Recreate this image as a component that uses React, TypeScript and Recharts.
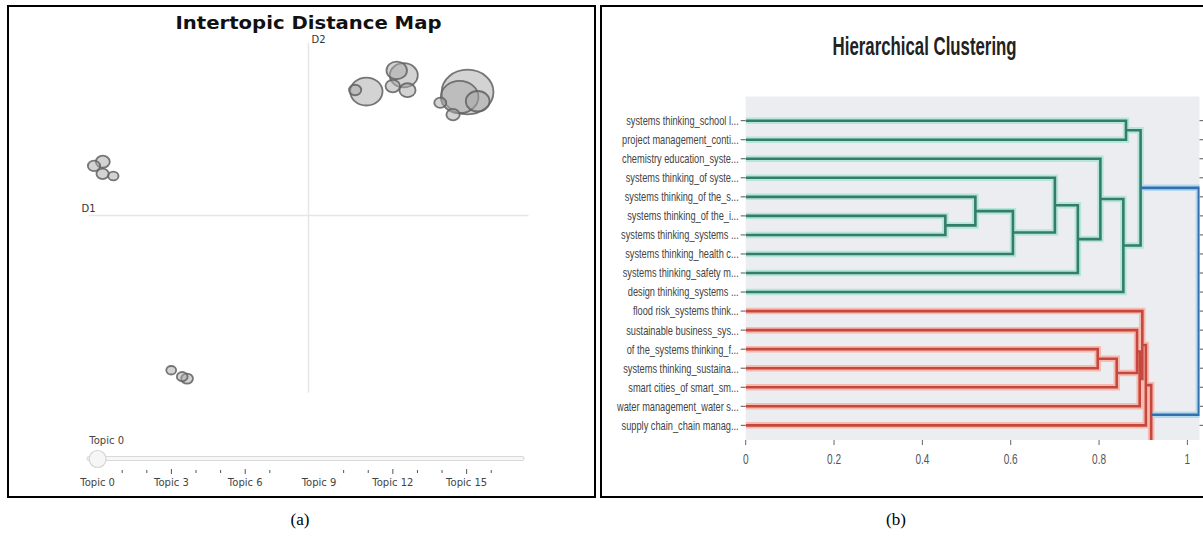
import React from 'react';
import {
  ScatterChart,
  Scatter,
  XAxis,
  YAxis,
  ZAxis,
  ReferenceLine,
  CartesianGrid,
} from 'recharts';

// (a) Intertopic distance map: one bubble per topic
const topicIds = [0, 1, 2, 3, 4, 5, 6, 7, 8, 9, 10, 11, 12, 13, 14, 15, 16, 17];
const topicD1 = [0.723, 0.687, 0.263, 0.433, 0.769, 0.401, 0.45, 0.383, -0.935, 0.657, 0.212, -0.975, -0.936, 0.599, -0.552, -0.574, -0.887, -0.624];
const topicD2 = [0.562, 0.539, 0.564, 0.638, 0.52, 0.66, 0.57, 0.589, 0.245, 0.459, 0.571, 0.226, 0.19, 0.513, -0.741, -0.732, 0.18, -0.703];
const topicSize = [576, 303, 225, 169, 121, 90, 56, 45, 42, 38, 32, 32, 32, 31, 30, 25, 23, 21];

// topic slider under the map
const sliderTicks = [0, 1, 2, 3, 4, 5, 6, 7, 8, 9, 10, 11, 12, 13, 14, 15, 16];
const sliderLabelTicks = [0, 3, 6, 9, 12, 15];
const sliderNoMark = [0, 8, 9];
const selectedTopic = 0;

// (b) Hierarchical clustering: leaves top to bottom, then merges
const leafLabels = [
  'systems thinking_school l...',
  'project management_conti...',
  'chemistry education_syste...',
  'systems thinking_of syste...',
  'systems thinking_of the_s...',
  'systems thinking_of the_i...',
  'systems thinking_systems ...',
  'systems thinking_health c...',
  'systems thinking_safety m...',
  'design thinking_systems ...',
  'flood risk_systems think...',
  'sustainable business_sys...',
  'of the_systems thinking_f...',
  'systems thinking_sustaina...',
  'smart cities_of smart_sm...',
  'water management_water s...',
  'supply chain_chain manag...',
];
const mergeLeft = ['L5', 'L4', 'm1', 'L3', 'm3', 'L2', 'm5', 'L0', 'm7', 'L12', 'm9', 'L11', 'm11', 'L10', 'm13', 'm14', 'm8'];
const mergeRight = ['L6', 'm0', 'L7', 'm2', 'L8', 'm4', 'L9', 'L1', 'm6', 'L13', 'L14', 'm10', 'L15', 'm12', 'L16', 'L17', 'm15'];
const mergeHeight = [0.452, 0.52, 0.605, 0.7, 0.752, 0.803, 0.855, 0.861, 0.894, 0.797, 0.84, 0.886, 0.892, 0.898, 0.906, 0.918, 1.026];
const mergeCluster = ['g', 'g', 'g', 'g', 'g', 'g', 'g', 'g', 'g', 'r', 'r', 'r', 'r', 'r', 'r', 'r', 'root'];
const distanceTicks = [0, 0.2, 0.4, 0.6, 0.8, 1];

const FONT_A = "'DejaVu Sans', Verdana, sans-serif";
const FONT_B = "'Liberation Sans', Arial, sans-serif";

const CORE: Record<string, string> = { g: '#347d6a', r: '#c4483d', root: '#3371ae' };
const HALO: Record<string, string> = { g: '#b6e6d7', r: '#f6bab1', root: '#b3d8f0' };

const topicData = topicIds.map((id, i) => ({
  topic: id,
  d1: topicD1[i],
  d2: topicD2[i],
  size: topicSize[i],
}));

const leafTicks = leafLabels.map((_, i) => 5 + 10 * i);

function nodePos(id: string): { x: number; y: number } {
  if (id[0] === 'L') return { x: 0, y: 5 + 10 * Number(id.slice(1)) };
  const k = Number(id.slice(1));
  const a = nodePos(mergeLeft[k]);
  const b = nodePos(mergeRight[k]);
  return { x: mergeHeight[k], y: (a.y + b.y) / 2 };
}

const links = mergeHeight.map((h, k) => {
  const a = nodePos(mergeLeft[k]);
  const b = nodePos(mergeRight[k]);
  return {
    cluster: mergeCluster[k],
    points: [
      { x: a.x, y: a.y },
      { x: h, y: a.y },
      { x: h, y: b.y },
      { x: b.x, y: b.y },
    ],
  };
});

const TopicBubble = (p: any) => {
  const r = p.width ? p.width / 2 : Math.sqrt((p.size ?? 64) / Math.PI);
  return (
    <ellipse
      cx={p.cx}
      cy={p.cy}
      rx={r * 1.08}
      ry={r * 0.93}
      fill="#a8a8a8"
      fillOpacity={0.5}
      stroke="#606060"
      strokeOpacity={0.85}
      strokeWidth={1.8}
    />
  );
};

const SliderTick = ({ x, y, payload }: any) => {
  const v = payload.value;
  const major = sliderLabelTicks.includes(v);
  return (
    <g>
      {!sliderNoMark.includes(v) && (
        <line x1={x} x2={x} y1={y + (major ? 0 : 1)} y2={y + (major ? 5 : 4)} stroke="#555" />
      )}
      {major && (
        <text x={x} y={y + 17} textAnchor="middle" fontSize={10} fill="#444" fontFamily={FONT_A}>
          {`Topic ${v}`}
        </text>
      )}
    </g>
  );
};

const SliderHandle = ({ cx, cy, payload }: any) => (
  <g>
    <circle cx={cx} cy={cy + 0.5} r={8.5} fill="#f6f6f6" stroke="#d4d4d4" strokeWidth={1.2} />
    <text x={cx - 8.3} y={cy - 14.5} fontSize={10} fill="#444" fontFamily={FONT_A}>
      {`Topic ${payload.topic}`}
    </text>
  </g>
);

const LeafTick = ({ x, y, payload }: any) => {
  const idx = leafTicks.indexOf(payload.value);
  return (
    <g transform={`translate(${x},${y})`}>
      <text transform="scale(0.74,1)" textAnchor="end" dy="0.35em" fontSize={12.5} fill="#444" fontFamily={FONT_B}>
        {leafLabels[idx]}
      </text>
    </g>
  );
};

const DistTick = ({ x, y, payload }: any) => (
  <g transform={`translate(${x},${y})`}>
    <text transform="scale(0.72,1)" textAnchor="middle" dy="0.71em" fontSize={14} fill="#555" fontFamily={FONT_B}>
      {payload.value}
    </text>
  </g>
);

const NoTick = () => <g />;
const NoShape = () => <g />;

export default function App() {
  return (
    <div
      style={{
        position: 'absolute',
        left: 0,
        top: 0,
        width: 1203,
        height: 537,
        overflow: 'hidden',
        background: '#fff',
      }}
    >
      {/* panel frames */}
      <div style={{ position: 'absolute', left: 7, top: 5, width: 589, height: 493, border: '2px solid #000', boxSizing: 'border-box' }} />
      <div style={{ position: 'absolute', left: 600, top: 5, width: 620, height: 493, border: '2px solid #000', boxSizing: 'border-box' }} />

      {/* (a) map */}
      <div style={{ position: 'absolute', left: 0, top: 0 }}>
        <ScatterChart width={540} height={400} margin={{ top: 42.7, right: 11.5, bottom: 7.3, left: 88.5 }}>
          <XAxis type="number" dataKey="d1" domain={[-1, 1]} hide />
          <YAxis type="number" dataKey="d2" domain={[-0.805, 0.786]} hide />
          <ZAxis type="number" dataKey="size" domain={[0, 600]} range={[0, 600 * Math.PI]} />
          <ReferenceLine
            x={0}
            stroke="#e6e6e6"
            strokeWidth={1.5}
            label={(p: any) => (
              <text x={p.viewBox.x + 3} y={p.viewBox.y} fontSize={10} fill="#333" fontFamily={FONT_A}>
                D2
              </text>
            )}
          />
          <ReferenceLine
            y={0}
            stroke="#e6e6e6"
            strokeWidth={1.5}
            label={(p: any) => (
              <text x={p.viewBox.x - 7} y={p.viewBox.y - 3.4} fontSize={10} fill="#333" fontFamily={FONT_A}>
                D1
              </text>
            )}
          />
          <Scatter data={topicData} shape={TopicBubble} isAnimationActive={false} />
        </ScatterChart>
      </div>

      {/* (a) topic slider */}
      <div style={{ position: 'absolute', left: 0, top: 420 }}>
        <ScatterChart width={540} height={75} margin={{ top: 28, right: 18, bottom: 0, left: 89 }}>
          <XAxis
            type="number"
            dataKey="topic"
            domain={[-0.35, 17.25]}
            ticks={sliderTicks}
            interval={0}
            axisLine={false}
            tickLine={false}
            tickSize={0}
            tickMargin={0}
            height={26}
            tick={SliderTick}
          />
          <YAxis type="number" dataKey="v" domain={[0, 1]} hide />
          <ReferenceLine y={0.5} stroke="#d9d9d9" strokeWidth={5} strokeLinecap="round" />
          <ReferenceLine y={0.5} stroke="#f7f7f7" strokeWidth={3} strokeLinecap="round" />
          <Scatter data={[{ topic: selectedTopic, v: 0.5 }]} shape={SliderHandle} isAnimationActive={false} />
        </ScatterChart>
      </div>

      {/* (b) dendrogram */}
      <div style={{ position: 'absolute', left: 600, top: 60 }}>
        <ScatterChart width={610} height={420} margin={{ top: 30.5, right: 0, bottom: 10, left: 0 }}>
          <CartesianGrid xAxisId="b" yAxisId="l" horizontal={false} vertical={false} fill="#ebedf0" />
          <XAxis
            xAxisId="b"
            type="number"
            dataKey="x"
            domain={[0, 1.0274]}
            allowDataOverflow
            ticks={distanceTicks}
            interval={0}
            axisLine={false}
            tickLine={{ stroke: '#666' }}
            tickSize={5}
            tickMargin={9}
            height={30}
            tick={DistTick}
          />
          <XAxis
            xAxisId="t"
            orientation="top"
            type="number"
            domain={[0, 1.0274]}
            allowDataOverflow
            ticks={distanceTicks}
            interval={0}
            axisLine={false}
            tickLine={{ stroke: '#666' }}
            tickSize={5}
            height={6}
            tick={NoTick}
          />
          <YAxis
            yAxisId="l"
            type="number"
            dataKey="y"
            domain={[-7.7, 172.7]}
            reversed
            allowDataOverflow
            ticks={leafTicks}
            interval={0}
            axisLine={false}
            tickLine={{ stroke: '#555' }}
            tickSize={5}
            tickMargin={2}
            width={145.7}
            tick={LeafTick}
          />
          <YAxis
            yAxisId="r"
            orientation="right"
            type="number"
            domain={[-7.7, 172.7]}
            reversed
            allowDataOverflow
            ticks={leafTicks}
            interval={0}
            axisLine={false}
            tickLine={{ stroke: '#555' }}
            tickSize={5}
            width={10.5}
            tick={NoTick}
          />
          {links.map((l, i) => (
            <Scatter
              key={`h${i}`}
              xAxisId="b"
              yAxisId="l"
              data={l.points}
              line={{ stroke: HALO[l.cluster], strokeWidth: 6.5 }}
              shape={NoShape}
              isAnimationActive={false}
            />
          ))}
          {links.map((l, i) => (
            <Scatter
              key={`c${i}`}
              xAxisId="b"
              yAxisId="l"
              data={l.points}
              line={{ stroke: CORE[l.cluster], strokeWidth: 2.6 }}
              shape={NoShape}
              isAnimationActive={false}
            />
          ))}
        </ScatterChart>
      </div>

      {/* titles and captions */}
      <svg width={1203} height={537} style={{ position: 'absolute', left: 0, top: 0, pointerEvents: 'none' }}>
        <text
          x={308.5}
          y={29.3}
          textAnchor="middle"
          fontFamily={FONT_A}
          fontWeight="bold"
          fontSize={18}
          textLength={266}
          lengthAdjust="spacingAndGlyphs"
          fill="#111"
        >
          Intertopic Distance Map
        </text>
        <text
          x={924.6}
          y={54.5}
          textAnchor="middle"
          fontFamily={FONT_B}
          fontWeight="bold"
          fontSize={26}
          textLength={184}
          lengthAdjust="spacingAndGlyphs"
          fill="#222"
        >
          Hierarchical Clustering
        </text>
        <text x={300} y={525} textAnchor="middle" fontFamily="'Liberation Serif', 'Times New Roman', serif" fontSize={17} fill="#000">
          (a)
        </text>
        <text x={896} y={525} textAnchor="middle" fontFamily="'Liberation Serif', 'Times New Roman', serif" fontSize={17} fill="#000">
          (b)
        </text>
      </svg>
    </div>
  );
}
